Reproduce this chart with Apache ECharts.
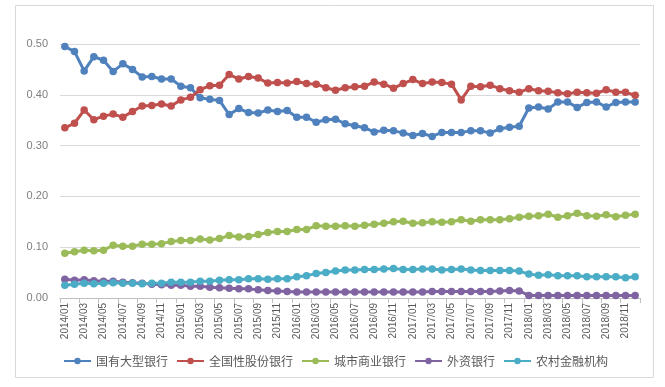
<!DOCTYPE html>
<html>
<head>
<meta charset="utf-8">
<script src="https://cdn.jsdelivr.net/npm/echarts@6/dist/echarts.min.js"></script>
<style>html,body{margin:0;padding:0;background:#fff;}#c{width:665px;height:387px;}</style>
</head>
<body>
<div id="c"></div>
<script>
const categories = [
'2014/01','2014/02','2014/03','2014/04','2014/05','2014/06','2014/07','2014/08','2014/09','2014/10','2014/11','2014/12',
'2015/01','2015/02','2015/03','2015/04','2015/05','2015/06','2015/07','2015/08','2015/09','2015/10','2015/11','2015/12',
'2016/01','2016/02','2016/03','2016/04','2016/05','2016/06','2016/07','2016/08','2016/09','2016/10','2016/11','2016/12',
'2017/01','2017/02','2017/03','2017/04','2017/05','2017/06','2017/07','2017/08','2017/09','2017/10','2017/11','2017/12',
'2018/01','2018/02','2018/03','2018/04','2018/05','2018/06','2018/07','2018/08','2018/09','2018/10','2018/11','2018/12'];

const seriesNames = ['国有大型银行','全国性股份银行','城市商业银行','外资银行','农村金融机构'];

const stateBanks = [.495,.485,.447,.475,.468,.446,.461,.450,.435,.436,
 .431,.431,.417,.414,.394,.391,.389,.361,.373,.365,
 .364,.370,.367,.369,.356,.356,.346,.351,.352,.343,
 .339,.335,.327,.330,.329,.325,.320,.324,.318,.326,
 .326,.326,.329,.329,.325,.333,.336,.338,.374,.376,
 .372,.386,.386,.375,.385,.386,.376,.385,.386,.386];

const jointStockBanks = [.335,.344,.370,.351,.358,.362,.356,.367,.378,.379,
 .382,.378,.390,.395,.410,.418,.419,.440,.431,.436,
 .433,.423,.424,.423,.426,.422,.421,.414,.409,.414,
 .416,.417,.425,.421,.413,.422,.430,.422,.425,.424,
 .421,.390,.417,.416,.419,.412,.408,.405,.412,.408,
 .407,.404,.402,.405,.404,.403,.410,.405,.405,.399];

const cityBanks = [.088,.091,.094,.093,.094,.104,.102,.102,.106,.106,
 .107,.111,.113,.113,.116,.114,.117,.123,.120,.121,
 .125,.129,.131,.131,.135,.135,.142,.141,.141,.142,
 .141,.143,.145,.147,.150,.151,.147,.148,.150,.149,
 .150,.154,.151,.154,.154,.154,.156,.159,.161,.162,
 .165,.159,.162,.167,.162,.161,.164,.160,.163,.165];

const foreignBanks = [.037,.035,.036,.034,.033,.033,.031,.030,.029,.027,
 .026,.025,.025,.023,.023,.021,.020,.019,.018,.018,
 .016,.015,.014,.013,.012,.012,.012,.012,.012,.012,
 .012,.012,.012,.012,.012,.012,.012,.012,.013,.013,
 .013,.013,.013,.013,.013,.014,.015,.014,.005,.005,
 .005,.005,.005,.005,.005,.005,.005,.005,.005,.005];

const ruralInstitutions = [.025,.027,.029,.028,.029,.030,.029,.029,.028,.029,
 .029,.031,.031,.031,.033,.033,.035,.036,.036,.038,
 .038,.037,.038,.038,.042,.044,.048,.050,.053,.055,
 .055,.056,.056,.057,.058,.056,.056,.057,.057,.055,
 .056,.057,.055,.054,.054,.054,.054,.053,.047,.045,
 .046,.044,.044,.044,.042,.042,.042,.042,.040,.042];

const yTicks = {min: 0, max: 0.5, interval: 0.1};

const colors = ['#4F81BD','#C0504D','#9BBB59','#8064A2','#4BACC6'];
const dataSets = [stateBanks, jointStockBanks, cityBanks, foreignBanks, ruralInstitutions];

const chart = echarts.init(document.getElementById('c'), null, {renderer: 'canvas'});
chart.setOption({
  animation: false,
  backgroundColor: '#fff',
  color: colors,
  graphic: [{
    type: 'rect', shape: {x: 15.5, y: 5.5, width: 638, height: 372},
    style: {fill: 'none', stroke: '#d9d9d9', lineWidth: 1}, z: -1
  }],
  grid: {left: 60, right: 25, top: 44, bottom: 89, containLabel: false},
  legend: {
    bottom: 15, left: 58,
    itemWidth: 27, itemHeight: 8, itemGap: 8,
    textStyle: {fontFamily: 'Noto Sans CJK SC', fontSize: 12, color: '#595959'},
    data: seriesNames
  },
  xAxis: {
    type: 'category', data: categories, boundaryGap: true,
    axisLine: {lineStyle: {color: '#bfbfbf', width: 1}},
    axisTick: {show: true, interval: 1, length: 5, lineStyle: {color: '#bfbfbf'}},
    axisLabel: {interval: 1, rotate: 90, margin: 5, fontSize: 10, color: '#595959', fontFamily: 'Liberation Sans'}
  },
  yAxis: {
    type: 'value', min: yTicks.min, max: yTicks.max, interval: yTicks.interval,
    axisLine: {show: false}, axisTick: {show: false},
    splitLine: {lineStyle: {color: '#d9d9d9', width: 1}},
    axisLabel: {fontSize: 11, color: '#7f7f7f', margin: 12, fontFamily: 'Liberation Sans',
      formatter: v => v.toFixed(2)}
  },
  series: dataSets.map((d, i) => ({
    name: seriesNames[i], type: 'line', data: d,
    symbol: 'circle', symbolSize: 7.5, showSymbol: true, showAllSymbol: true,
    lineStyle: {width: 3, color: colors[i]},
    itemStyle: {color: colors[i]}
  }))
});
</script>
</body>
</html>
